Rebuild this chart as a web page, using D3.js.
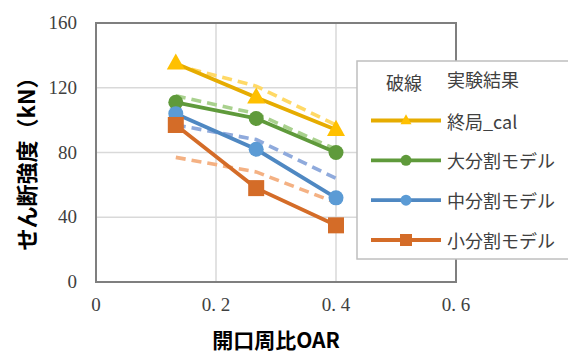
<!DOCTYPE html>
<html>
<head>
<meta charset="utf-8">
<script src="https://cdn.jsdelivr.net/npm/d3@7"></script>
<style>
  html, body { margin: 0; padding: 0; background: #fff; }
  svg { display: block; }
</style>
</head>
<body>
<svg id="chart" width="568" height="353"></svg>
<script>
// Opening perimeter ratio (OAR) for each specimen
const oar = [0.133, 0.267, 0.4];

// Solid lines: analysis results
const ultimateCal = [135, 114, 94];
const largeMesh = [111, 101, 80];
const mediumMesh = [104, 82, 52];
const smallMesh = [97, 58, 35];

// Dashed lines: experimental results
const ultimateExp = [134, 121, 97];
const largeExp = [115, 104, 82];
const mediumExp = [97, 88, 64];
const smallExp = [77, 68, 49];

const yTicks = [0, 40, 80, 120, 160];
const xTicks = [0, 0.2, 0.4, 0.6];
const xTickLabels = ["0", "0. 2", "0. 4", "0. 6"];

const seriesNames = ["終局_cal", "大分割モデル", "中分割モデル", "小分割モデル"];
const legendHeader = ["破線", "実験結果"];
const yTitle = "せん断強度（kN）";
const xTitle = "開口周比OAR";

const styles = [
  { line: "#e6ac00", marker: "#ffc000", dash: "#ffd966", shape: "triangle" },
  { line: "#5f9a3b", marker: "#5f9a3b", dash: "#a9d18e", shape: "circle" },
  { line: "#4f88c2", marker: "#5b9bd5", dash: "#8faadc", shape: "circle" },
  { line: "#d46c28", marker: "#d46c28", dash: "#f4b183", shape: "square" }
];

const solidSeries = [ultimateCal, largeMesh, mediumMesh, smallMesh];
const dashedSeries = [ultimateExp, largeExp, mediumExp, smallExp];

const svg = d3.select("#chart");
const plot = { left: 96, right: 456, top: 23, bottom: 282 };

const x = d3.scaleLinear().domain([0, 0.6]).range([plot.left, plot.right]);
const y = d3.scaleLinear().domain([0, 160]).range([plot.bottom, plot.top]);

// Gridlines
svg.append("g").selectAll("line.h").data(yTicks.slice(1, -1)).join("line")
  .attr("x1", plot.left).attr("x2", plot.right)
  .attr("y1", d => y(d)).attr("y2", d => y(d))
  .attr("stroke", "#d9d9d9").attr("stroke-width", 1.5);
svg.append("g").selectAll("line.v").data(xTicks.slice(1, -1)).join("line")
  .attr("y1", plot.top).attr("y2", plot.bottom)
  .attr("x1", d => x(d)).attr("x2", d => x(d))
  .attr("stroke", "#d9d9d9").attr("stroke-width", 1.5);

// Plot frame
svg.append("rect")
  .attr("x", plot.left).attr("y", plot.top)
  .attr("width", plot.right - plot.left).attr("height", plot.bottom - plot.top)
  .attr("fill", "none").attr("stroke", "#7f7f7f").attr("stroke-width", 2);

// Axis tick labels
const tickFont = "'Liberation Serif', 'DejaVu Serif', serif";
svg.append("g").selectAll("text").data(yTicks).join("text")
  .attr("x", 77).attr("y", d => y(d) + 6)
  .attr("text-anchor", "end")
  .attr("font-family", tickFont).attr("font-size", 19).attr("fill", "#404040")
  .text(d => d);
svg.append("g").selectAll("text").data(xTicks).join("text")
  .attr("x", d => x(d)).attr("y", 311)
  .attr("text-anchor", "middle")
  .attr("font-family", tickFont).attr("font-size", 19).attr("fill", "#404040")
  .attr("xml:space", "preserve")
  .style("white-space", "pre")
  .text((d, i) => xTickLabels[i]);

// Axis titles
const titleFont = "'Noto Sans CJK JP', 'Noto Sans', sans-serif";
svg.append("text")
  .attr("transform", `translate(25, ${(plot.top + plot.bottom) / 2 + 6}) rotate(-90)`)
  .attr("text-anchor", "middle").attr("dominant-baseline", "central")
  .attr("font-family", titleFont).attr("font-weight", "bold").attr("font-size", 22)
  .attr("fill", "#000")
  .text(yTitle);
svg.append("text")
  .attr("x", 276).attr("y", 339)
  .attr("text-anchor", "middle").attr("dominant-baseline", "central")
  .attr("font-family", titleFont).attr("font-weight", "bold").attr("font-size", 21)
  .attr("fill", "#000")
  .text(xTitle);

const lineGen = d3.line().x((d, i) => x(oar[i])).y(d => y(d));

// Dashed experimental lines
dashedSeries.forEach((s, k) => {
  svg.append("path").datum(s)
    .attr("d", lineGen)
    .attr("fill", "none")
    .attr("stroke", styles[k].dash)
    .attr("stroke-width", 3.6)
    .attr("stroke-dasharray", "10,6");
});

function drawMarker(g, shape, cx, cy, color, size) {
  if (shape === "triangle") {
    const h = size * 0.9;
    g.append("path")
      .attr("d", `M${cx},${cy - h * 0.62}L${cx + size / 2},${cy + h * 0.38}L${cx - size / 2},${cy + h * 0.38}Z`)
      .attr("fill", color);
  } else if (shape === "circle") {
    g.append("circle").attr("cx", cx).attr("cy", cy).attr("r", size / 2).attr("fill", color);
  } else {
    g.append("rect").attr("x", cx - size / 2).attr("y", cy - size / 2)
      .attr("width", size).attr("height", size).attr("fill", color);
  }
}

// Solid analysis lines with markers
solidSeries.forEach((s, k) => {
  const g = svg.append("g");
  g.append("path").datum(s)
    .attr("d", lineGen)
    .attr("fill", "none")
    .attr("stroke", styles[k].line)
    .attr("stroke-width", 3.8);
  const size = styles[k].shape === "triangle" ? 18 : styles[k].shape === "circle" ? 15 : 16;
  s.forEach((v, i) => drawMarker(g, styles[k].shape, x(oar[i]), y(v), styles[k].marker, size));
});

// Legend
const legend = svg.append("g");
legend.append("rect")
  .attr("x", 357).attr("y", 61).attr("width", 215).attr("height", 198)
  .attr("fill", "#fff").attr("stroke", "#bfbfbf").attr("stroke-width", 1.5);
const legendFont = "'Noto Sans CJK JP', 'Noto Sans', sans-serif";
legend.append("text").attr("x", 386).attr("y", 82).attr("dominant-baseline", "central")
  .attr("font-family", legendFont).attr("font-size", 18).attr("fill", "#404040")
  .text(legendHeader[0]);
legend.append("text").attr("x", 447).attr("y", 79).attr("dominant-baseline", "central")
  .attr("font-family", legendFont).attr("font-size", 18).attr("fill", "#404040")
  .text(legendHeader[1]);
const rowY = d3.scalePoint().domain(seriesNames).range([120.5, 240]);
seriesNames.forEach((name, k) => {
  const cy = rowY(name);
  legend.append("line").attr("x1", 371).attr("x2", 441).attr("y1", cy).attr("y2", cy)
    .attr("stroke", styles[k].line).attr("stroke-width", 3.8);
  const size = styles[k].shape === "triangle" ? 11 : styles[k].shape === "circle" ? 11 : 12;
  drawMarker(legend, styles[k].shape, 406, cy, styles[k].marker, size);
  legend.append("text").attr("x", 447).attr("y", cy).attr("dominant-baseline", "central")
    .attr("font-family", legendFont).attr("font-size", 18).attr("fill", "#404040")
    .text(name);
});
</script>
</body>
</html>
